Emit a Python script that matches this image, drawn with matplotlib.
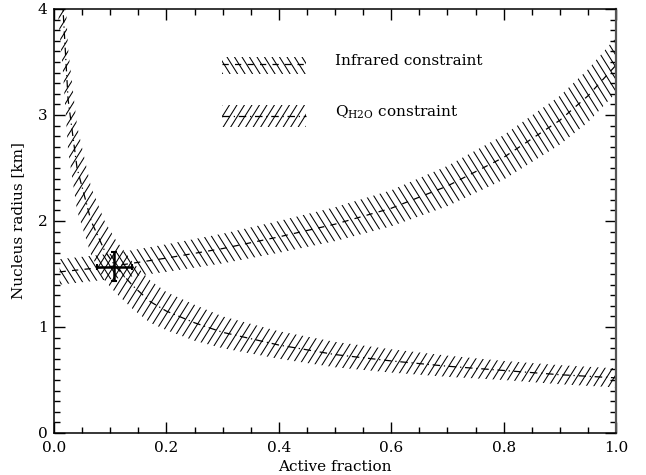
import numpy as np
import matplotlib
matplotlib.use("Agg")
import matplotlib.pyplot as plt
from matplotlib.collections import LineCollection
from matplotlib.patches import Rectangle
from matplotlib.ticker import MultipleLocator

plt.rcParams['font.family'] = 'DejaVu Serif'
plt.rcParams['mathtext.fontset'] = 'dejavuserif'

# Infrared constraint band (centre + half width)
ir_x = [0.01, 0.10, 0.20, 0.30, 0.40, 0.50, 0.60, 0.70, 0.80, 0.90, 0.95, 1.00]
ir_c = [1.52, 1.57, 1.65, 1.74, 1.85, 1.97, 2.12, 2.33, 2.60, 2.95, 3.18, 3.47]
ir_w = [0.12, 0.12, 0.13, 0.14, 0.15, 0.16, 0.17, 0.19, 0.21, 0.23, 0.25, 0.26]

# Q_H2O constraint band
q_x = [0.008, 0.016, 0.025, 0.041, 0.066, 0.09, 0.11, 0.14, 0.171, 0.20, 0.25,
       0.30, 0.35, 0.40, 0.50, 0.60, 0.70, 0.80, 0.90, 1.00]
q_c = [4.60, 4.00, 3.15, 2.50, 2.00, 1.72, 1.57, 1.39, 1.24, 1.15, 1.04,
       0.95, 0.89, 0.83, 0.74, 0.68, 0.63, 0.59, 0.55, 0.52]
q_w = [0.70, 0.60, 0.48, 0.40, 0.32, 0.28, 0.25, 0.22, 0.20, 0.18, 0.17,
       0.15, 0.14, 0.13, 0.12, 0.11, 0.10, 0.09, 0.09, 0.09]

# solution point
pt_x, pt_y = 0.107, 1.57
pt_xerr, pt_yerr = 0.031, 0.14

W, H = 562, 424  # axes size in pixels


def hatch(ax, path, transform, sign, spacing=7.5, angle=58, lw=0.75):
    dx = H / np.tan(np.radians(angle)) / W
    segs = []
    for u in np.arange(-1.0, 2.0, spacing / W):
        if sign > 0:
            segs.append([(u, 0), (u + dx, 1)])
        else:
            segs.append([(u, 1), (u + dx, 0)])
    lc = LineCollection(segs, colors='black', linewidths=lw,
                        transform=ax.transAxes)
    lc.set_clip_path(path, transform)
    lc.set_clip_box(ax.bbox)
    ax.add_collection(lc, autolim=False)


fig = plt.figure(figsize=(6.46, 4.75), dpi=100)
ax = fig.add_axes([54/646, 42/475, W/646, H/475])
ax.set_xlim(0, 1)
ax.set_ylim(0, 4)

ir_c, ir_w = np.array(ir_c), np.array(ir_w)
q_c, q_w = np.array(q_c), np.array(q_w)

band_ir = ax.fill_between(ir_x, ir_c - ir_w, ir_c + ir_w,
                          facecolor='none', edgecolor='none')
band_q = ax.fill_between(q_x, q_c - q_w, q_c + q_w,
                         facecolor='none', edgecolor='none')
hatch(ax, band_ir.get_paths()[0], ax.transData, -1)
hatch(ax, band_q.get_paths()[0], ax.transData, +1)

ls_ir = (0, (5, 5))
ls_q = (0, (6, 3, 1, 3))
ax.plot(ir_x, ir_c, color='black', lw=0.9, ls=ls_ir)
ax.plot(q_x, q_c, color='black', lw=0.9, ls=ls_q)

ax.errorbar(pt_x, pt_y, xerr=pt_xerr, yerr=pt_yerr, color='black',
            lw=1.8, capsize=2.5, capthick=1.5)

# legend drawn by hand
leg_x0, leg_x1 = (222 - 54) / W, (306 - 54) / W
for (y0, y1, yc, sign, ls, label) in [
        (57, 74, 64, -1, ls_ir, 'Infrared constraint'),
        (105, 127, 116, +1, ls_q, r'Q$_{\mathrm{H2O}}$ constraint')]:
    a0, a1, ac = (433 - y1) / H, (433 - y0) / H, (433 - yc) / H
    rect = Rectangle((leg_x0, a0), leg_x1 - leg_x0, a1 - a0,
                     transform=ax.transAxes, facecolor='none', edgecolor='none')
    ax.add_patch(rect)
    hatch(ax, rect.get_path(), rect.get_transform(), sign)
    ax.plot([leg_x0, leg_x1], [ac, ac], color='black', lw=0.9, ls=ls,
            transform=ax.transAxes)
    ax.text((335 - 54) / W, ac + 0.008, label, transform=ax.transAxes,
            fontsize=11, va='center', ha='left')

ax.xaxis.set_major_locator(MultipleLocator(0.2))
ax.xaxis.set_minor_locator(MultipleLocator(0.05))
ax.yaxis.set_major_locator(MultipleLocator(1))
ax.yaxis.set_minor_locator(MultipleLocator(0.1))
ax.xaxis.set_major_formatter(plt.FormatStrFormatter('%.1f'))
ax.tick_params(which='both', direction='in', top=True, right=True,
               labelsize=11, width=1)
ax.tick_params(which='major', length=8)
ax.tick_params(which='minor', length=4.3)
ax.tick_params(axis='x', pad=5.5)
ax.tick_params(axis='y', pad=4.5)
for s in ax.spines.values():
    s.set_linewidth(1.1)
ax.spines['right'].set_linewidth(1.6)
ax.spines['right'].set_color('#555555')

ax.set_xlabel('Active fraction', fontsize=11, labelpad=4)
ax.set_ylabel('Nucleus radius [km]', fontsize=11, labelpad=9)

fig.savefig('out.png', dpi=100)
